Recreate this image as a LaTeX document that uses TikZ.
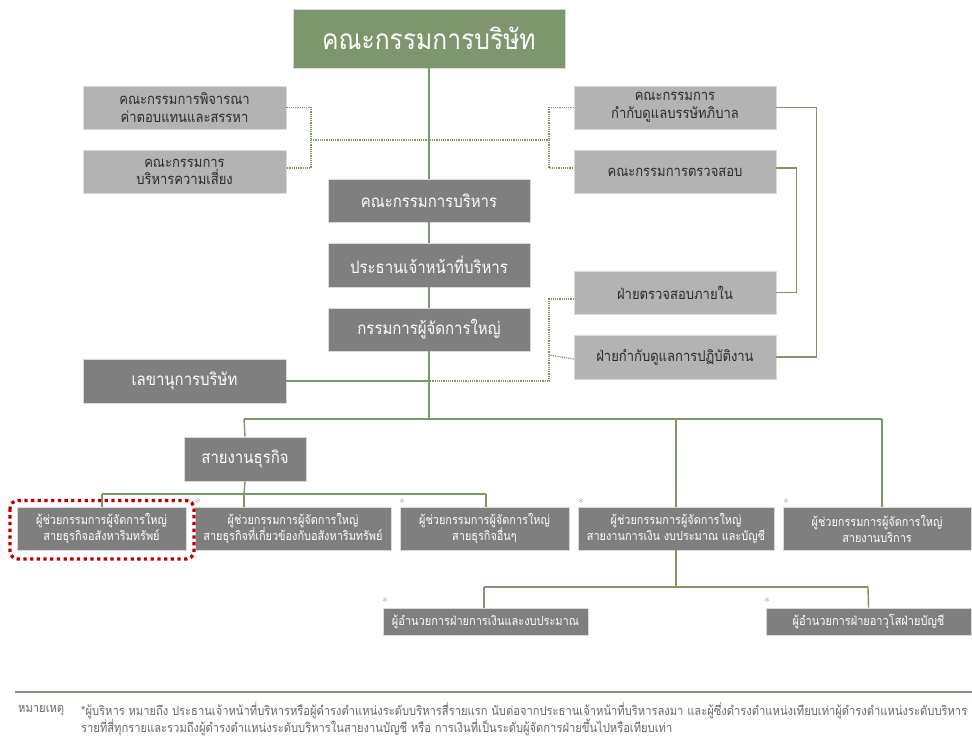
\documentclass[tikz,border=0pt]{standalone}
\usepackage{fontspec}
\newfontfamily\thai[Script=Thai, FakeStretch=0.88]{Loma}
\definecolor{boardgreen}{HTML}{7E966E}
\definecolor{linegreen}{HTML}{7C9868}
\definecolor{darkgr}{HTML}{7F7F7F}
\definecolor{lightgr}{HTML}{B3B3B3}
\definecolor{stargr}{HTML}{A0A0A0}
\definecolor{rimgr}{HTML}{DADADA}
\definecolor{txtdark}{HTML}{2B2B2B}
\definecolor{notegr}{HTML}{666666}
\definecolor{redframe}{HTML}{C00000}
\begin{document}
\begin{tikzpicture}[x=1pt,y=-1pt,
  base/.style={inner sep=0pt, align=center, draw=rimgr, line width=0.6pt},
  boardbox/.style={base, fill=boardgreen, text=white, font=\thai\fontsize{28}{32}\selectfont},
  lightbox/.style={base, fill=lightgr, text=txtdark, font=\thai\fontsize{14.8}{17.5}\selectfont, minimum width=203, minimum height=43},
  darkbox/.style={base, fill=darkgr, text=white, font=\thai\fontsize{17}{20}\selectfont, minimum width=202, minimum height=43},
  rowbox/.style={base, fill=darkgr, text=white, font=\thai\fontsize{12.4}{16}\selectfont, minimum height=43},
  subbox/.style={base, fill=darkgr, text=white, font=\thai\fontsize{12.5}{14}\selectfont, minimum height=27, minimum width=205},
  solidline/.style={draw=linegreen, line width=1.4pt},
  dotline/.style={draw=linegreen, line width=1.2pt, dash pattern=on 1.2pt off 1pt},
  starmark/.style={text=stargr, font=\fontsize{12}{12}\selectfont, inner sep=0pt},
  notetext/.style={text=notegr, font=\thai\fontsize{12.7}{14}\selectfont, inner sep=0pt, anchor=west}
]
\useasboundingbox (0,0) rectangle (972,738);

% ---- boxes ----
\node[boardbox, minimum width=272, minimum height=59] (board) at (429,38.5) {คณะกรรมการบริษัท};

\node[lightbox] (nom) at (184.5,107.5) {คณะกรรมการพิจารณา\\ค่าตอบแทนและสรรหา};
\node[lightbox] (risk) at (184.5,172) {คณะกรรมการ\\บริหารความเสี่ยง};
\node[lightbox, minimum width=202] (gov) at (675,107.5) {คณะกรรมการ\\กำกับดูแลบรรษัทภิบาล};
\node[lightbox, minimum width=202] (audit) at (675,172) {คณะกรรมการตรวจสอบ};
\node[lightbox, minimum width=202] (ia) at (675,292.5) {ฝ่ายตรวจสอบภายใน};
\node[lightbox, minimum width=202, minimum height=44] (comp) at (675,357) {ฝ่ายกำกับดูแลการปฏิบัติงาน};

\node[darkbox] (exec) at (429,200.5) {คณะกรรมการบริหาร};
\node[darkbox, minimum height=44] (ceo) at (429,265) {ประธานเจ้าหน้าที่บริหาร};
\node[darkbox] (pres) at (429,329.5) {กรรมการผู้จัดการใหญ่};
\node[darkbox, minimum width=203, minimum height=44] (sec) at (184.5,381) {เลขานุการบริษัท};
\node[darkbox, minimum width=122, minimum height=44] (biz) at (245,459) {สายงานธุรกิจ};

\node[rowbox, minimum width=169] (ra) at (101.5,528.5) {ผู้ช่วยกรรมการผู้จัดการใหญ่\\สายธุรกิจอสังหาริมทรัพย์};
\node[rowbox, minimum width=196] (rb) at (293,528.5) {ผู้ช่วยกรรมการผู้จัดการใหญ่\\สายธุรกิจที่เกี่ยวข้องกับอสังหาริมทรัพย์};
\node[rowbox, minimum width=169] (rc) at (484.5,528.5) {ผู้ช่วยกรรมการผู้จัดการใหญ่\\สายธุรกิจอื่นๆ};
\node[rowbox, minimum width=196] (rd) at (676,528.5) {ผู้ช่วยกรรมการผู้จัดการใหญ่\\สายงานการเงิน งบประมาณ และบัญชี};
\node[rowbox, minimum width=188] (re) at (877,528.5) {ผู้ช่วยกรรมการผู้จัดการใหญ่\\สายงานบริการ};

\node[subbox] (rf) at (485.5,621.5) {ผู้อำนวยการฝ่ายการเงินและงบประมาณ};
\node[subbox] (rg) at (868.5,621.5) {ผู้อำนวยการฝ่ายอาวุโสฝ่ายบัญชี};

% ---- stars ----
\node[starmark] (sa) at (21,503) {*};
\node[starmark] (sb) at (198,503) {*};
\node[starmark] (sc) at (402,503) {*};
\node[starmark] (sd) at (581,503) {*};
\node[starmark] (se) at (786,503) {*};
\node[starmark] (sf) at (385,602) {*};
\node[starmark] (sg) at (767,602) {*};

% ---- junction coordinates ----
\coordinate (jl) at (311,140);
\coordinate (jr) at (549,140);
\coordinate (jsec) at (429,381);
\coordinate (bus1) at (429,419);
\coordinate (bus1l) at (244,419);
\coordinate (bus1d) at (676,419);
\coordinate (bus1r) at (882,419);
\coordinate (bus2) at (244,494);
\coordinate (bus2l) at (102,494);
\coordinate (bus2r) at (486,494);
\coordinate (bus3) at (676,587);
\coordinate (bus3l) at (484,587);
\coordinate (bus3r) at (868,587);

% ---- solid connectors ----
\draw[solidline] (board.south) -- (exec.north);
\draw[solidline] (exec.south) -- (ceo.north);
\draw[solidline] (ceo.south) -- (pres.north);
\draw[solidline] (pres.south) -- (bus1);
\draw[solidline] (sec.east) -- (jsec);
\draw[solidline] (bus1l) -- (bus1r);
\draw[solidline] (bus1l) -- (biz.north);
\draw[solidline] (bus1d) -- (rd.north);
\draw[solidline] (bus1r) -- (bus1r |- re.north);
\draw[solidline] (biz.south) -- (bus2);
\draw[solidline] (bus2l) -- (bus2r);
\draw[solidline] (bus2l) -- (bus2l |- ra.north);
\draw[solidline] (bus2) -- (bus2 |- rb.north);
\draw[solidline] (bus2r) -- (bus2r |- rc.north);
\draw[solidline] (rd.south) -- (bus3);
\draw[solidline] (bus3l) -- (bus3r);
\draw[solidline] (bus3l) -- (bus3l |- rf.north);
\draw[solidline] (bus3r) -- (rg.north);
\draw[solidline] (gov.east) -- ++(40,0) |- (comp.east);
\draw[solidline] ([yshift=4]audit.east) -- ++(20,0) |- (ia.east);

% ---- dotted connectors ----
\draw[dotline] (nom.east) -| (jl) |- ([yshift=4]risk.east);
\draw[dotline] (jl) -- (jr);
\draw[dotline] (gov.west) -| (jr) |- ([yshift=4]audit.west);
\draw[dotline] ([yshift=-6.5]ia.west) -| (549,381) -- (jsec);
\draw[dotline] ([yshift=-2]comp.west) -- (549,355);

% ---- red highlight ----
\draw[redframe, line width=3.3pt, dash pattern=on 3.3pt off 3.4pt, rounded corners=8pt] (10,500.5) rectangle (194,559);

% ---- footnote ----
\coordinate (nl) at (15,692);
\coordinate (nr) at (972,692);
\draw[draw=linegreen, line width=2pt] (nl) -- (nr);
\node[notetext] (nlabel) at (18,711) {หมายเหตุ};
\node[notetext] (n1) at (81,711) {*ผู้บริหาร หมายถึง ประธานเจ้าหน้าที่บริหารหรือผู้ดำรงตำแหน่งระดับบริหารสี่รายแรก นับต่อจากประธานเจ้าหน้าที่บริหารลงมา และผู้ซึ่งดำรงตำแหน่งเทียบเท่าผู้ดำรงตำแหน่งระดับบริหาร};
\node[notetext] (n2) at (81,727.5) {รายที่สี่ทุกรายและรวมถึงผู้ดำรงตำแหน่งระดับบริหารในสายงานบัญชี หรือ การเงินที่เป็นระดับผู้จัดการฝ่ายขึ้นไปหรือเทียบเท่า};
\end{tikzpicture}
\end{document}
